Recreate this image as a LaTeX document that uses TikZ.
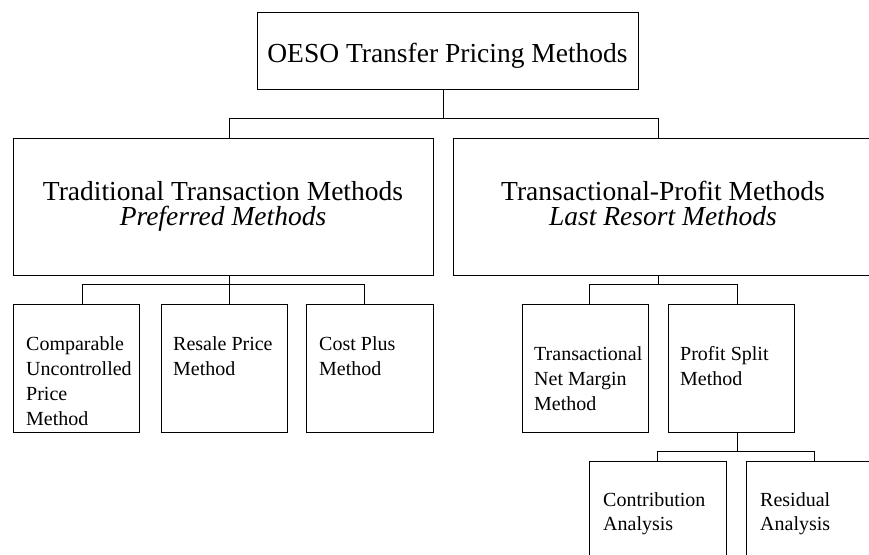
\documentclass[tikz,border=0pt]{standalone}
\usepackage{fontspec}
\setmainfont{Liberation Serif}
\begin{document}
\begin{tikzpicture}[x=1pt,y=-1pt,
  box/.style={draw, line width=1pt, rectangle, inner sep=0pt, anchor=north west},
  conn/.style={line width=1pt},
  bigtxt/.style={font=\fontsize{27.5}{32}\selectfont, inner sep=0pt, anchor=base, text height=18pt, text depth=5pt},
  smalltxt/.style={font=\fontsize{20}{24}\selectfont, inner sep=0pt, anchor=base west, text height=14pt, text depth=4pt}]
\useasboundingbox (0,0) rectangle (869,554);
\clip (0,0) rectangle (869,554);
% boxes
\node[box, minimum width=381, minimum height=77] (top) at (257,12) {};
\node[box, minimum width=420, minimum height=137] (trad) at (13,138) {};
\node[box, minimum width=422, minimum height=137] (tpm) at (453,138) {};
\node[box, minimum width=126, minimum height=128] (cup) at (13,304) {};
\node[box, minimum width=126, minimum height=128] (rpm) at (161,304) {};
\node[box, minimum width=127, minimum height=128] (cpm) at (306,304) {};
\node[box, minimum width=126, minimum height=128] (tnmm) at (522,304) {};
\node[box, minimum width=126, minimum height=128] (psm) at (668,304) {};
\node[box, minimum width=137, minimum height=120] (ca) at (589,461) {};
\node[box, minimum width=137, minimum height=120] (ra) at (746,461) {};
% texts
\node[bigtxt] (ttop) at (447.5,62) {OESO Transfer Pricing Methods};
\node[bigtxt] (ttrad1) at (223,200) {Traditional Transaction Methods};
\node[bigtxt] (ttrad2) at (223,225) {\itshape Preferred Methods};
\node[bigtxt] (ttpm1) at (663,200) {Transactional-Profit Methods};
\node[bigtxt] (ttpm2) at (663,225.5) {\itshape Last Resort Methods};
\node[smalltxt] (tcup1) at (26,350) {Comparable};
\node[smalltxt] (tcup2) at (26,375) {Uncontrolled};
\node[smalltxt] (tcup3) at (26,400) {Price};
\node[smalltxt] (tcup4) at (26,425) {Method};
\node[smalltxt] (trpm1) at (173,350) {Resale Price};
\node[smalltxt] (trpm2) at (173,375) {Method};
\node[smalltxt] (tcpm1) at (319,350) {Cost Plus};
\node[smalltxt] (tcpm2) at (319,375) {Method};
\node[smalltxt] (ttnmm1) at (534,360) {Transactional};
\node[smalltxt] (ttnmm2) at (534,385) {Net Margin};
\node[smalltxt] (ttnmm3) at (534,410) {Method};
\node[smalltxt] (tpsm1) at (680,360) {Profit Split};
\node[smalltxt] (tpsm2) at (680,385) {Method};
\node[smalltxt] (tca1) at (603,506) {Contribution};
\node[smalltxt] (tca2) at (603,530) {Analysis};
\node[smalltxt] (tra1) at (760,506) {Residual};
\node[smalltxt] (tra2) at (760,530) {Analysis};
% junction coordinates
\coordinate (b1) at (443,118);
\coordinate (t1) at (229,118);
\coordinate (t2) at (658,118);
\coordinate (b2) at (229,284);
\coordinate (c1) at (82,284);
\coordinate (c3) at (364,284);
\coordinate (b3) at (658,284);
\coordinate (d1) at (589,284);
\coordinate (d2) at (737,284);
\coordinate (b4) at (737,451);
\coordinate (e1) at (657,451);
\coordinate (e2) at (814,451);
% connectors
\draw[conn] (b1 |- top.south) -- (b1);
\draw[conn] (t1 |- trad.north) |- (t2) -- (t2 |- tpm.north);
\draw[conn] (b2 |- trad.south) -- (b2 |- rpm.north);
\draw[conn] (c1 |- cup.north) |- (c3) -- (c3 |- cpm.north);
\draw[conn] (b3 |- tpm.south) -- (b3);
\draw[conn] (d1 |- tnmm.north) |- (d2) -- (d2 |- psm.north);
\draw[conn] (b4 |- psm.south) -- (b4);
\draw[conn] (e1 |- ca.north) |- (e2) -- (e2 |- ra.north);
\end{tikzpicture}
\end{document}
